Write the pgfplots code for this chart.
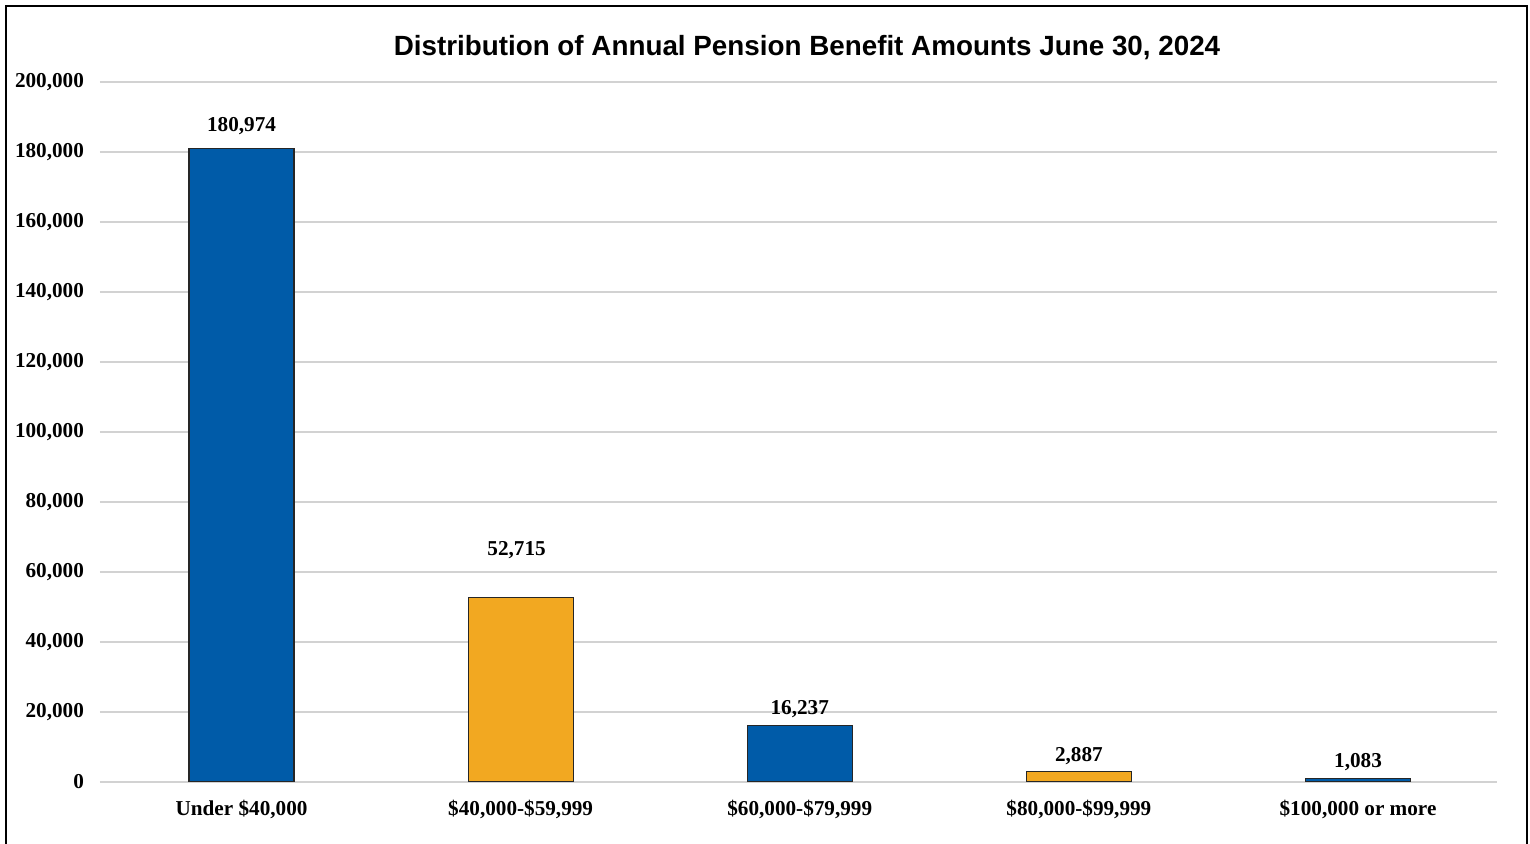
\documentclass[border=0pt]{standalone}
\usepackage{pgfplots}
\pgfplotsset{compat=1.18}
\usepackage{pgfplotstable}
\usepackage{fontspec}
\setmainfont{Liberation Serif}
\newfontfamily\titlefont{Liberation Sans}
\definecolor{barblue}{RGB}{0,91,168}
\definecolor{barorange}{RGB}{242,168,33}
\definecolor{gridgray}{RGB}{210,210,210}
\pgfplotstableread{
x y off xoff
0 180974 11 0
2 16237 8 0
4 1083 8 0
}\blueData
\pgfplotstableread{
x y off xoff
1 52715 23.5 -2
3 2887 8 0
}\orangeData
\begin{document}
\begin{tikzpicture}
\useasboundingbox (-50pt,-31pt) rectangle (715pt,391pt);
\begin{axis}[
  at={(0pt,0pt)}, anchor=south west,
  scale only axis,
  width=698.5pt, height=350pt,
  xmin=-0.507, xmax=4.498,
  ymin=0, ymax=200000,
  xtick={0,1,2,3,4},
  xticklabels={{Under \$40,000},{\$40,000-\$59,999},{\$60,000-\$79,999},{\$80,000-\$99,999},{\$100,000 or more}},
  ytick={0,20000,...,200000},
  scaled y ticks=false,
  /pgf/number format/assume math mode=true,
  yticklabel style={xshift=-4.5pt, font=\fontsize{10.6}{12}\selectfont\bfseries, /pgf/number format/.cd, fixed, 1000 sep={,}},
  xticklabel style={font=\fontsize{10.6}{12}\selectfont\bfseries, yshift=-1.5pt},
  ymajorgrids, major grid style={gridgray, line width=0.8pt},
  axis line style={draw=none},
  tick style={draw=none},
  ybar, bar width=0.376, bar shift=0pt,
  enlarge x limits=false,
  nodes near coords,
  visualization depends on={\thisrow{off}\as\off},
  visualization depends on={\thisrow{xoff}\as\xoff},
  every node near coord/.append style={font=\fontsize{10.6}{12}\selectfont\bfseries, anchor=center, yshift=\off pt, xshift=\xoff pt, /pgf/number format/.cd, fixed, 1000 sep={,}, assume math mode=true},
]
\addplot[fill=barblue, draw=black!85, line width=0.6pt] table[x=x,y=y] {\blueData};
\addplot[fill=barorange, draw=black!85, line width=0.6pt] table[x=x,y=y] {\orangeData};
\end{axis}
\node[font=\titlefont\fontsize{13.9}{16}\selectfont\bfseries] at (353.5pt,367pt) {Distribution of Annual Pension Benefit Amounts June 30, 2024};
\draw[line width=1.2pt] (-47pt,-40pt) rectangle (713.5pt,388pt);
\end{tikzpicture}
\end{document}
